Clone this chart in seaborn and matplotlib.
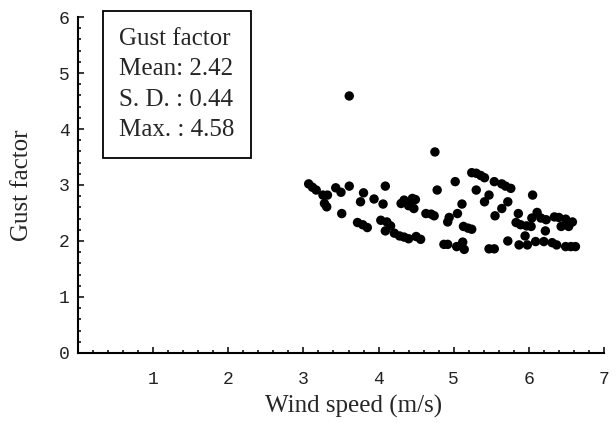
import matplotlib
matplotlib.use("Agg")
import matplotlib.pyplot as plt
from matplotlib.ticker import MultipleLocator
import numpy as np
import pandas as pd
import seaborn as sns

# values
wind = [3.61, 4.75,
        3.07, 3.12, 3.17, 3.26, 3.32, 3.28, 3.31, 3.43, 3.50, 3.61, 3.51,
        3.80, 3.76, 3.94, 3.72, 3.79, 3.85, 4.09, 4.06, 4.03, 4.11, 4.09,
        4.21, 4.16, 4.28, 4.34, 4.40, 4.50, 4.56,
        4.30, 4.34, 4.41, 4.45, 4.49, 4.40, 4.47,
        4.63, 4.70, 4.74, 4.78, 5.02, 4.92, 4.94, 5.05, 5.11,
        4.87, 4.92, 5.04, 5.12, 5.14, 5.13, 5.19, 5.24,
        5.24, 5.30, 5.36, 5.41, 5.30, 5.47, 5.41,
        5.54, 5.64, 5.69, 5.76, 5.64, 5.55, 5.72, 5.47, 5.54, 5.72,
        6.05, 5.86, 5.83, 5.89, 5.97, 6.03, 6.04, 6.11, 6.16, 6.23,
        6.22, 5.95, 5.87, 5.98, 6.09, 6.20, 6.31, 6.37,
        6.34, 6.40, 6.49, 6.58, 6.43, 6.53, 6.49, 6.56, 6.62]
gust = [4.59, 3.59,
        3.02, 2.96, 2.91, 2.82, 2.82, 2.67, 2.61, 2.95, 2.87, 2.98, 2.49,
        2.86, 2.70, 2.75, 2.33, 2.29, 2.24, 2.98, 2.66, 2.37, 2.34, 2.18,
        2.14, 2.27, 2.09, 2.07, 2.04, 2.08, 2.03,
        2.67, 2.73, 2.67, 2.76, 2.74, 2.63, 2.58,
        2.49, 2.48, 2.45, 2.91, 3.06, 2.34, 2.42, 2.49, 2.66,
        1.94, 1.94, 1.90, 1.98, 1.85, 2.26, 2.23, 2.21,
        3.22, 3.21, 3.17, 3.13, 2.91, 2.82, 2.70,
        3.06, 3.02, 2.98, 2.94, 2.58, 2.45, 2.70, 1.86, 1.86, 2.00,
        2.82, 2.49, 2.33, 2.29, 2.27, 2.26, 2.41, 2.51, 2.41, 2.38,
        2.18, 2.09, 1.93, 1.93, 1.99, 1.99, 1.97, 1.93,
        2.43, 2.42, 2.39, 2.34, 2.26, 2.26, 1.90, 1.90, 1.90]
stats_text = ["Gust factor", "Mean: 2.42", "S. D. : 0.44", "Max. : 4.58"]

df = pd.DataFrame({"wind": wind, "gust": gust})

sns.set_style("ticks")
plt.rcParams["font.family"] = ["Liberation Serif", "DejaVu Serif"]

fig = plt.figure(figsize=(6.16, 4.23), dpi=100)
ax = fig.add_axes([0.1266, 0.1655, 0.8539, 0.7943])

sns.scatterplot(data=df, x="wind", y="gust", ax=ax, color="black",
                s=46, edgecolor="none", linewidth=0)

ax.set_xlim(0, 7)
ax.set_ylim(0, 6)
ax.set_xticks([1, 2, 3, 4, 5, 6, 7])
ax.set_yticks([0, 1, 2, 3, 4, 5, 6])
ax.xaxis.set_minor_locator(MultipleLocator(0.2))
ax.yaxis.set_minor_locator(MultipleLocator(0.2))

for s in ["top", "right"]:
    ax.spines[s].set_visible(False)
for s in ["left", "bottom"]:
    ax.spines[s].set_linewidth(1.5)
    ax.spines[s].set_color("black")

ax.tick_params(which="major", direction="in", length=4.5, width=1.1,
               color="black", labelsize=13)
ax.tick_params(which="minor", direction="in", length=2.5, width=1.1,
               color="black")
ax.tick_params(axis="x", which="major", pad=13)
ax.tick_params(axis="y", which="major", pad=6)
for lab in ax.get_xticklabels() + ax.get_yticklabels():
    lab.set_fontfamily(["Liberation Mono", "DejaVu Sans Mono"])
    lab.set_color("#222222")

ax.set_xlabel("Wind speed (m/s)", fontsize=18)
ax.set_ylabel("Gust factor", fontsize=18, va="center")
ax.xaxis.set_label_coords(0.523, -0.125)
ax.yaxis.set_label_coords(-0.106, 0.5)

ax.text(0.078, 0.968, "\n".join(stats_text), transform=ax.transAxes,
        fontsize=18, va="top", ha="left", linespacing=1.5,
        bbox=dict(boxstyle="square,pad=0.66", facecolor="white",
                  edgecolor="black", linewidth=1.3))

fig.savefig("out.png", dpi=100)
